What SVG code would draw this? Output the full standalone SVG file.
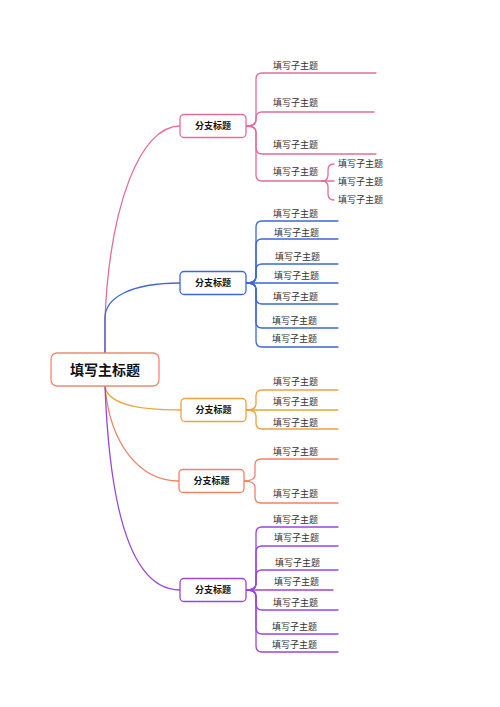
<svg xmlns="http://www.w3.org/2000/svg" width="500" height="707" viewBox="0 0 500 707">
<style>
.ln{fill:none;stroke-width:1.3;stroke-linecap:round;stroke-linejoin:round}
.pk{stroke:#e56b9c}.bl{stroke:#3d67d6}.or{stroke:#eba33e}.co{stroke:#ee8465}.pu{stroke:#9945de}
.box{fill:#ffffff;stroke-width:1.3}
.bt{font-family:"Noto Sans CJK SC","Noto Sans",sans-serif;font-size:9px;font-weight:bold;fill:#111;text-anchor:middle}
.ct{font-family:"Noto Sans CJK SC","Noto Sans",sans-serif;font-size:9px;fill:#333}
.mt{font-family:"Noto Sans CJK SC","Noto Sans",sans-serif;font-size:14px;font-weight:bold;fill:#111;text-anchor:middle}
</style>
<rect width="500" height="707" fill="#ffffff"/>
<g id="connectors">
<path class="ln pk" d="M105,353 L105,318 C110,205 140,126 180,126"/>
<path class="ln bl" d="M105,353 L105,318 C105,298 130,283 180,283"/>
<path class="ln or" d="M105,386 C107,402 130,410 181,410"/>
<path class="ln co" d="M105,386 C110,445 140,481 179,481"/>
<path class="ln pu" d="M105,386 C110,520 135,590 180,590"/>
<path class="ln pk" d="M246,126 C252,126 256,124 256,120 L256,79 Q256,73 262,73 L376,73"/>
<path class="ln pk" d="M246,126 C252,126 256,124 256,120 L256,118 Q256,112 262,112 L374,112"/>
<path class="ln pk" d="M246,126 C252,126 256,128 256,132 L256,148 Q256,154 262,154 L376,154"/>
<path class="ln pk" d="M246,126 C252,126 256,128 256,132 L256,175 Q256,181 262,181 L322,181"/>
<path class="ln pk" d="M322,181 C326,181 328,179 328,175 L328,170 Q328,164 334,164"/>
<path class="ln pk" d="M322,181 L334,181"/>
<path class="ln pk" d="M322,181 C326,181 328,183 328,187 L328,194 Q328,200 334,200"/>
<path class="ln bl" d="M246,283 C252,283 256,281 256,277 L256,227 Q256,221 262,221 L338,221"/>
<path class="ln bl" d="M246,283 C252,283 256,281 256,277 L256,245 Q256,239 262,239 L338,239"/>
<path class="ln bl" d="M246,283 C252,283 256,281 256,277 L256,270 Q256,264 262,264 L338,264"/>
<path class="ln bl" d="M246,283 L338,283"/>
<path class="ln bl" d="M246,283 C252,283 256,285 256,289 L256,298 Q256,304 262,304 L338,304"/>
<path class="ln bl" d="M246,283 C252,283 256,285 256,289 L256,322 Q256,328 262,328 L338,328"/>
<path class="ln bl" d="M246,283 C252,283 256,285 256,289 L256,341 Q256,347 262,347 L338,347"/>
<path class="ln or" d="M246,410 C252,410 256,408 256,404 L256,396 Q256,390 262,390 L338,390"/>
<path class="ln or" d="M246,410 L338,410"/>
<path class="ln or" d="M246,410 C252,410 256,412 256,416 L256,423 Q256,429 262,429 L338,429"/>
<path class="ln co" d="M244,481 C250,481 255,479 255,475 L255,465 Q255,459 261,459 L338,459"/>
<path class="ln co" d="M244,481 C250,481 255,483 255,487 L255,497 Q255,503 261,503 L338,503"/>
<path class="ln pu" d="M246,590 C252,590 256,588 256,584 L256,533 Q256,527 262,527 L338,527"/>
<path class="ln pu" d="M246,590 C252,590 256,588 256,584 L256,552 Q256,546 262,546 L338,546"/>
<path class="ln pu" d="M246,590 C252,590 256,588 256,584 L256,576 Q256,570 262,570 L338,570"/>
<path class="ln pu" d="M246,590 L333,590"/>
<path class="ln pu" d="M246,590 C252,590 256,592 256,596 L256,604 Q256,610 262,610 L338,610"/>
<path class="ln pu" d="M246,590 C252,590 256,592 256,596 L256,628 Q256,634 262,634 L338,634"/>
<path class="ln pu" d="M246,590 C252,590 256,592 256,596 L256,646 Q256,652 262,652 L338,652"/>
</g>
<g id="main">
<rect class="box" x="51" y="353" width="108" height="33" rx="6" stroke="#ef8a6c"/>
<text class="mt" x="105" y="375">填写主标题</text>
</g>
<g id="b1">
<rect class="box pk" x="180" y="114.5" width="66" height="23" rx="4"/>
<text class="bt" x="213" y="129">分支标题</text>
</g>
<g id="b1c">
<text class="ct" x="273" y="69">填写子主题</text>
<text class="ct" x="273" y="106">填写子主题</text>
<text class="ct" x="273" y="148">填写子主题</text>
<text class="ct" x="273" y="175">填写子主题</text>
<text class="ct" x="338" y="167">填写子主题</text>
<text class="ct" x="338" y="185">填写子主题</text>
<text class="ct" x="338" y="203">填写子主题</text>
</g>
<g id="b2">
<rect class="box bl" x="180" y="271.5" width="66" height="23" rx="4"/>
<text class="bt" x="213" y="286">分支标题</text>
</g>
<g id="b2c">
<text class="ct" x="273" y="217">填写子主题</text>
<text class="ct" x="274" y="236">填写子主题</text>
<text class="ct" x="275" y="260">填写子主题</text>
<text class="ct" x="274" y="279">填写子主题</text>
<text class="ct" x="273" y="300">填写子主题</text>
<text class="ct" x="272" y="324">填写子主题</text>
<text class="ct" x="272" y="342">填写子主题</text>
</g>
<g id="b3">
<rect class="box or" x="181" y="398.5" width="65" height="23" rx="4"/>
<text class="bt" x="213.5" y="413">分支标题</text>
</g>
<g id="b3c">
<text class="ct" x="273" y="385">填写子主题</text>
<text class="ct" x="273" y="405">填写子主题</text>
<text class="ct" x="273" y="426">填写子主题</text>
</g>
<g id="b4">
<rect class="box co" x="179" y="469.5" width="65" height="23" rx="4"/>
<text class="bt" x="211.5" y="484">分支标题</text>
</g>
<g id="b4c">
<text class="ct" x="273" y="455">填写子主题</text>
<text class="ct" x="273" y="497">填写子主题</text>
</g>
<g id="b5">
<rect class="box pu" x="180" y="578.5" width="66" height="23" rx="4"/>
<text class="bt" x="213" y="593">分支标题</text>
</g>
<g id="b5c">
<text class="ct" x="273" y="523">填写子主题</text>
<text class="ct" x="274" y="541">填写子主题</text>
<text class="ct" x="275" y="566">填写子主题</text>
<text class="ct" x="274" y="585">填写子主题</text>
<text class="ct" x="273" y="606">填写子主题</text>
<text class="ct" x="272" y="630">填写子主题</text>
<text class="ct" x="272" y="648">填写子主题</text>
</g>
</svg>
